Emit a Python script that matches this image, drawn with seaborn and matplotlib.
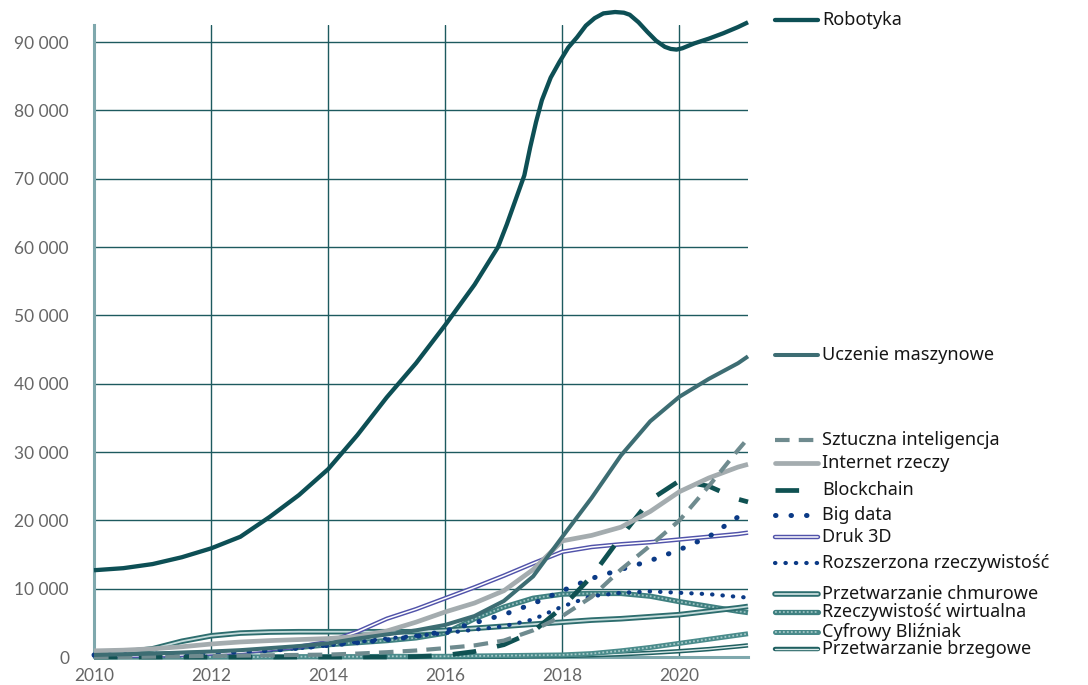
"""
Liczba publikacji wg technologii, 2010-2021 (wykres liniowy z etykietami po prawej).
"""

import matplotlib
matplotlib.use("Agg")
import matplotlib.pyplot as plt
from matplotlib.lines import Line2D
from matplotlib.ticker import FuncFormatter, MultipleLocator
import seaborn as sns

sns.set_style("white")
plt.rcParams['font.family'] = ['Noto Sans', 'DejaVu Sans']

# ─── Dane ──────────────────────────────────────────────────────────
lata = [2010, 2010.5, 2011, 2011.5, 2012, 2012.5, 2013, 2013.5, 2014, 2014.5,
        2015, 2015.5, 2016, 2016.5, 2017, 2017.5, 2018, 2018.5, 2019, 2019.5,
        2020, 2020.5, 2021, 2021.17]

lata_robotyka = [2010, 2010.5, 2011, 2011.5, 2012, 2012.5, 2013, 2013.5, 2014,
                 2014.5, 2015, 2015.5, 2016, 2016.5, 2016.9, 2017.05, 2017.2,
                 2017.35, 2017.45, 2017.55, 2017.65, 2017.8, 2017.95, 2018.1,
                 2018.25, 2018.4, 2018.55, 2018.7, 2018.9, 2019.05, 2019.15,
                 2019.3, 2019.45, 2019.6, 2019.75, 2019.85, 2019.95, 2020.05,
                 2020.25, 2020.5, 2020.75, 2021.0, 2021.17]
robotyka = [12700, 13000, 13600, 14600, 15900, 17600, 20500, 23700, 27500,
            32500, 38000, 43000, 48600, 54500, 60000, 63300, 66900,
            70500, 74600, 78300, 81500, 84800, 87100, 89200,
            90700, 92400, 93500, 94200, 94400, 94300, 94000,
            92900, 91500, 90200, 89300, 89000, 88900, 89100,
            89800, 90500, 91300, 92200, 92900]

uczenie = [300, 400, 500, 650, 800, 1000, 1300, 1600, 2000, 2700,
           3300, 3900, 4700, 6000, 8200, 11800, 17600, 23300, 29500, 34500,
           38100, 40700, 43000, 44000]
sztuczna = [0, 0, 50, 100, 150, 200, 250, 300, 350, 500,
            700, 950, 1300, 1700, 2400, 3900, 6000, 8800, 12800, 16300,
            20000, 25000, 30300, 32000]
internet = [900, 1000, 1200, 1500, 1900, 2200, 2400, 2550, 2700, 3000,
            3800, 5100, 6600, 7900, 9700, 12800, 17000, 17800, 19000, 21300,
            24200, 26200, 27800, 28200]
blockchain = [0, 0, 0, 0, 0, 0, 0, 0, 0, 0,
              0, 50, 250, 800, 1800, 3700, 7300, 11800, 17600, 23000,
              25800, 25000, 23100, 22700]
big_data = [300, 350, 400, 500, 600, 750, 950, 1300, 1700, 2100,
            2500, 3000, 3800, 5000, 6200, 7800, 9700, 11500, 12800, 14100,
            15700, 17600, 20500, 21900]
druk_3d = [100, 150, 200, 300, 500, 700, 1100, 1500, 2200, 3700,
           5600, 7000, 8600, 10200, 11900, 13700, 15400, 16100, 16500, 16800,
           17200, 17600, 18000, 18200]
rozszerzona = [200, 250, 350, 450, 600, 800, 1000, 1300, 1700, 2200,
               2700, 3100, 3500, 4000, 4500, 5500, 7400, 8900, 9400, 9600,
               9400, 9200, 8800, 8700]
chmurowe = [550, 700, 1200, 2300, 3100, 3500, 3650, 3700, 3700, 3700,
            3700, 3700, 3900, 4200, 4500, 4800, 5100, 5400, 5600, 5900,
            6200, 6700, 7200, 7400]
wirtualna = [300, 350, 400, 500, 600, 800, 1000, 1400, 1800, 2100,
             2400, 2800, 3500, 5600, 7300, 8600, 9200, 9300, 9300, 8900,
             8100, 7400, 6700, 6500]
cyfrowy = [0, 0, 0, 0, 0, 0, 0, 50, 50, 50,
           100, 100, 100, 150, 200, 250, 300, 500, 900, 1400,
           2000, 2600, 3200, 3400]
brzegowe = [0, 0, 0, 0, 0, 0, 0, 0, 0, 0,
            0, 0, 0, 20, 50, 100, 150, 250, 400, 600,
            850, 1150, 1550, 1700]

etykiety = ['Robotyka', 'Uczenie maszynowe', 'Sztuczna inteligencja',
            'Internet rzeczy', 'Blockchain', 'Big data', 'Druk 3D',
            'Rozszerzona rzeczywistość', 'Przetwarzanie chmurowe',
            'Rzeczywistość wirtualna', 'Cyfrowy Bliźniak',
            'Przetwarzanie brzegowe']
serie = [robotyka, uczenie, sztuczna, internet, blockchain, big_data, druk_3d,
         rozszerzona, chmurowe, wirtualna, cyfrowy, brzegowe]
osie_x = [lata_robotyka] + [lata] * 11

# pozycje etykiet po prawej (piksele od góry)
etykiety_y = [20, 355, 440, 463, 490, 515, 537, 563, 594, 612, 632, 649]

# ─── Style linii: lista warstw (kolor, grubość, linestyle) ─────────
style = [
    [('#0d4f55', 3.1, '-')],
    [('#3d6d73', 2.9, '-')],
    [('#6f8b8f', 3.0, (0, (3.5, 2.2)))],
    [('#a4acaf', 3.4, '-')],
    [('#0f5152', 3.4, (0, (5, 4.5)))],
    [('#0b3a86', 3.6, (0, (0.1, 3.0)))],
    [('#5153aa', 3.2, '-'), ('white', 1.1, '-')],
    [('#0b3a86', 3.0, (0, (0.1, 2.4)))],
    [('#2d6d6e', 4.0, '-'), ('#c6dcdc', 1.3, '-')],
    [('#3f8080', 3.8, '-'), ('#9cc2c2', 1.3, (0, (1, 1.2)))],
    [('#4a8b8b', 3.6, '-'), ('#a6c9c9', 1.3, (0, (1, 1.2)))],
    [('#1f5f60', 3.2, '-'), ('#d9e9e9', 1.0, '-')],
]


def kapsel(ls):
    # kropki rysowane zaokrąglonymi końcami kresek
    return 'round' if ls != '-' and ls[1][0] < 1 else 'butt'


GRID = '#1d5a5f'
SPINE = '#7fa8ad'

W, H = 1088, 685
fig = plt.figure(figsize=(W / 100, H / 100), dpi=100)
ax = fig.add_axes([94 / W, 1 - 657 / H, (748 - 94) / W, (657 - 25) / H])

# rysowanie od najniższej serii, Robotyka na wierzchu
for i in reversed(range(len(serie))):
    for kolor, lw, ls in style[i]:
        sns.lineplot(x=osie_x[i], y=serie[i], ax=ax, color=kolor, lw=lw,
                     linestyle=ls, clip_on=False, solid_capstyle='butt',
                     solid_joinstyle='round', dash_capstyle=kapsel(ls),
                     zorder=3 + (len(serie) - i) * 0.1)

ax.set_xlim(2010, 2021.17)
ax.set_ylim(0, 92500)
ax.xaxis.set_major_locator(MultipleLocator(2))
ax.yaxis.set_major_locator(MultipleLocator(10000))
ax.yaxis.set_major_formatter(FuncFormatter(lambda v, p: f"{int(v):,}".replace(",", " ")))
ax.set_xlabel('')
ax.set_ylabel('')

ax.grid(True, color=GRID, lw=1.0)
ax.set_axisbelow(True)
for s in ['top', 'right']:
    ax.spines[s].set_visible(False)
ax.spines['left'].set_color(SPINE)
ax.spines['left'].set_linewidth(2.2)
ax.spines['bottom'].set_color(SPINE)
ax.spines['bottom'].set_linewidth(2.2)

ax.tick_params(axis='y', length=10, width=1.0, color=GRID, pad=8,
               labelsize=12.5, labelcolor='#666666')
ax.tick_params(axis='x', length=0, pad=8, labelsize=12.5, labelcolor='#666666')
for lab in ax.get_xticklabels() + ax.get_yticklabels():
    lab.set_family(['Lato', 'DejaVu Sans'])

# ─── Etykiety z próbkami linii po prawej ───────────────────────────
for i, nazwa in enumerate(etykiety):
    yf = 1 - etykiety_y[i] / H
    for kolor, lw, ls in style[i]:
        fig.add_artist(Line2D([775 / W, 818 / W], [yf, yf], color=kolor, lw=lw,
                              linestyle=ls, transform=fig.transFigure,
                              dash_capstyle=kapsel(ls)))
    fig.text(822 / W, yf, nazwa, fontsize=13, fontweight='medium',
             color='#161616', va='center', ha='left')

fig.savefig('out.png', dpi=100)
